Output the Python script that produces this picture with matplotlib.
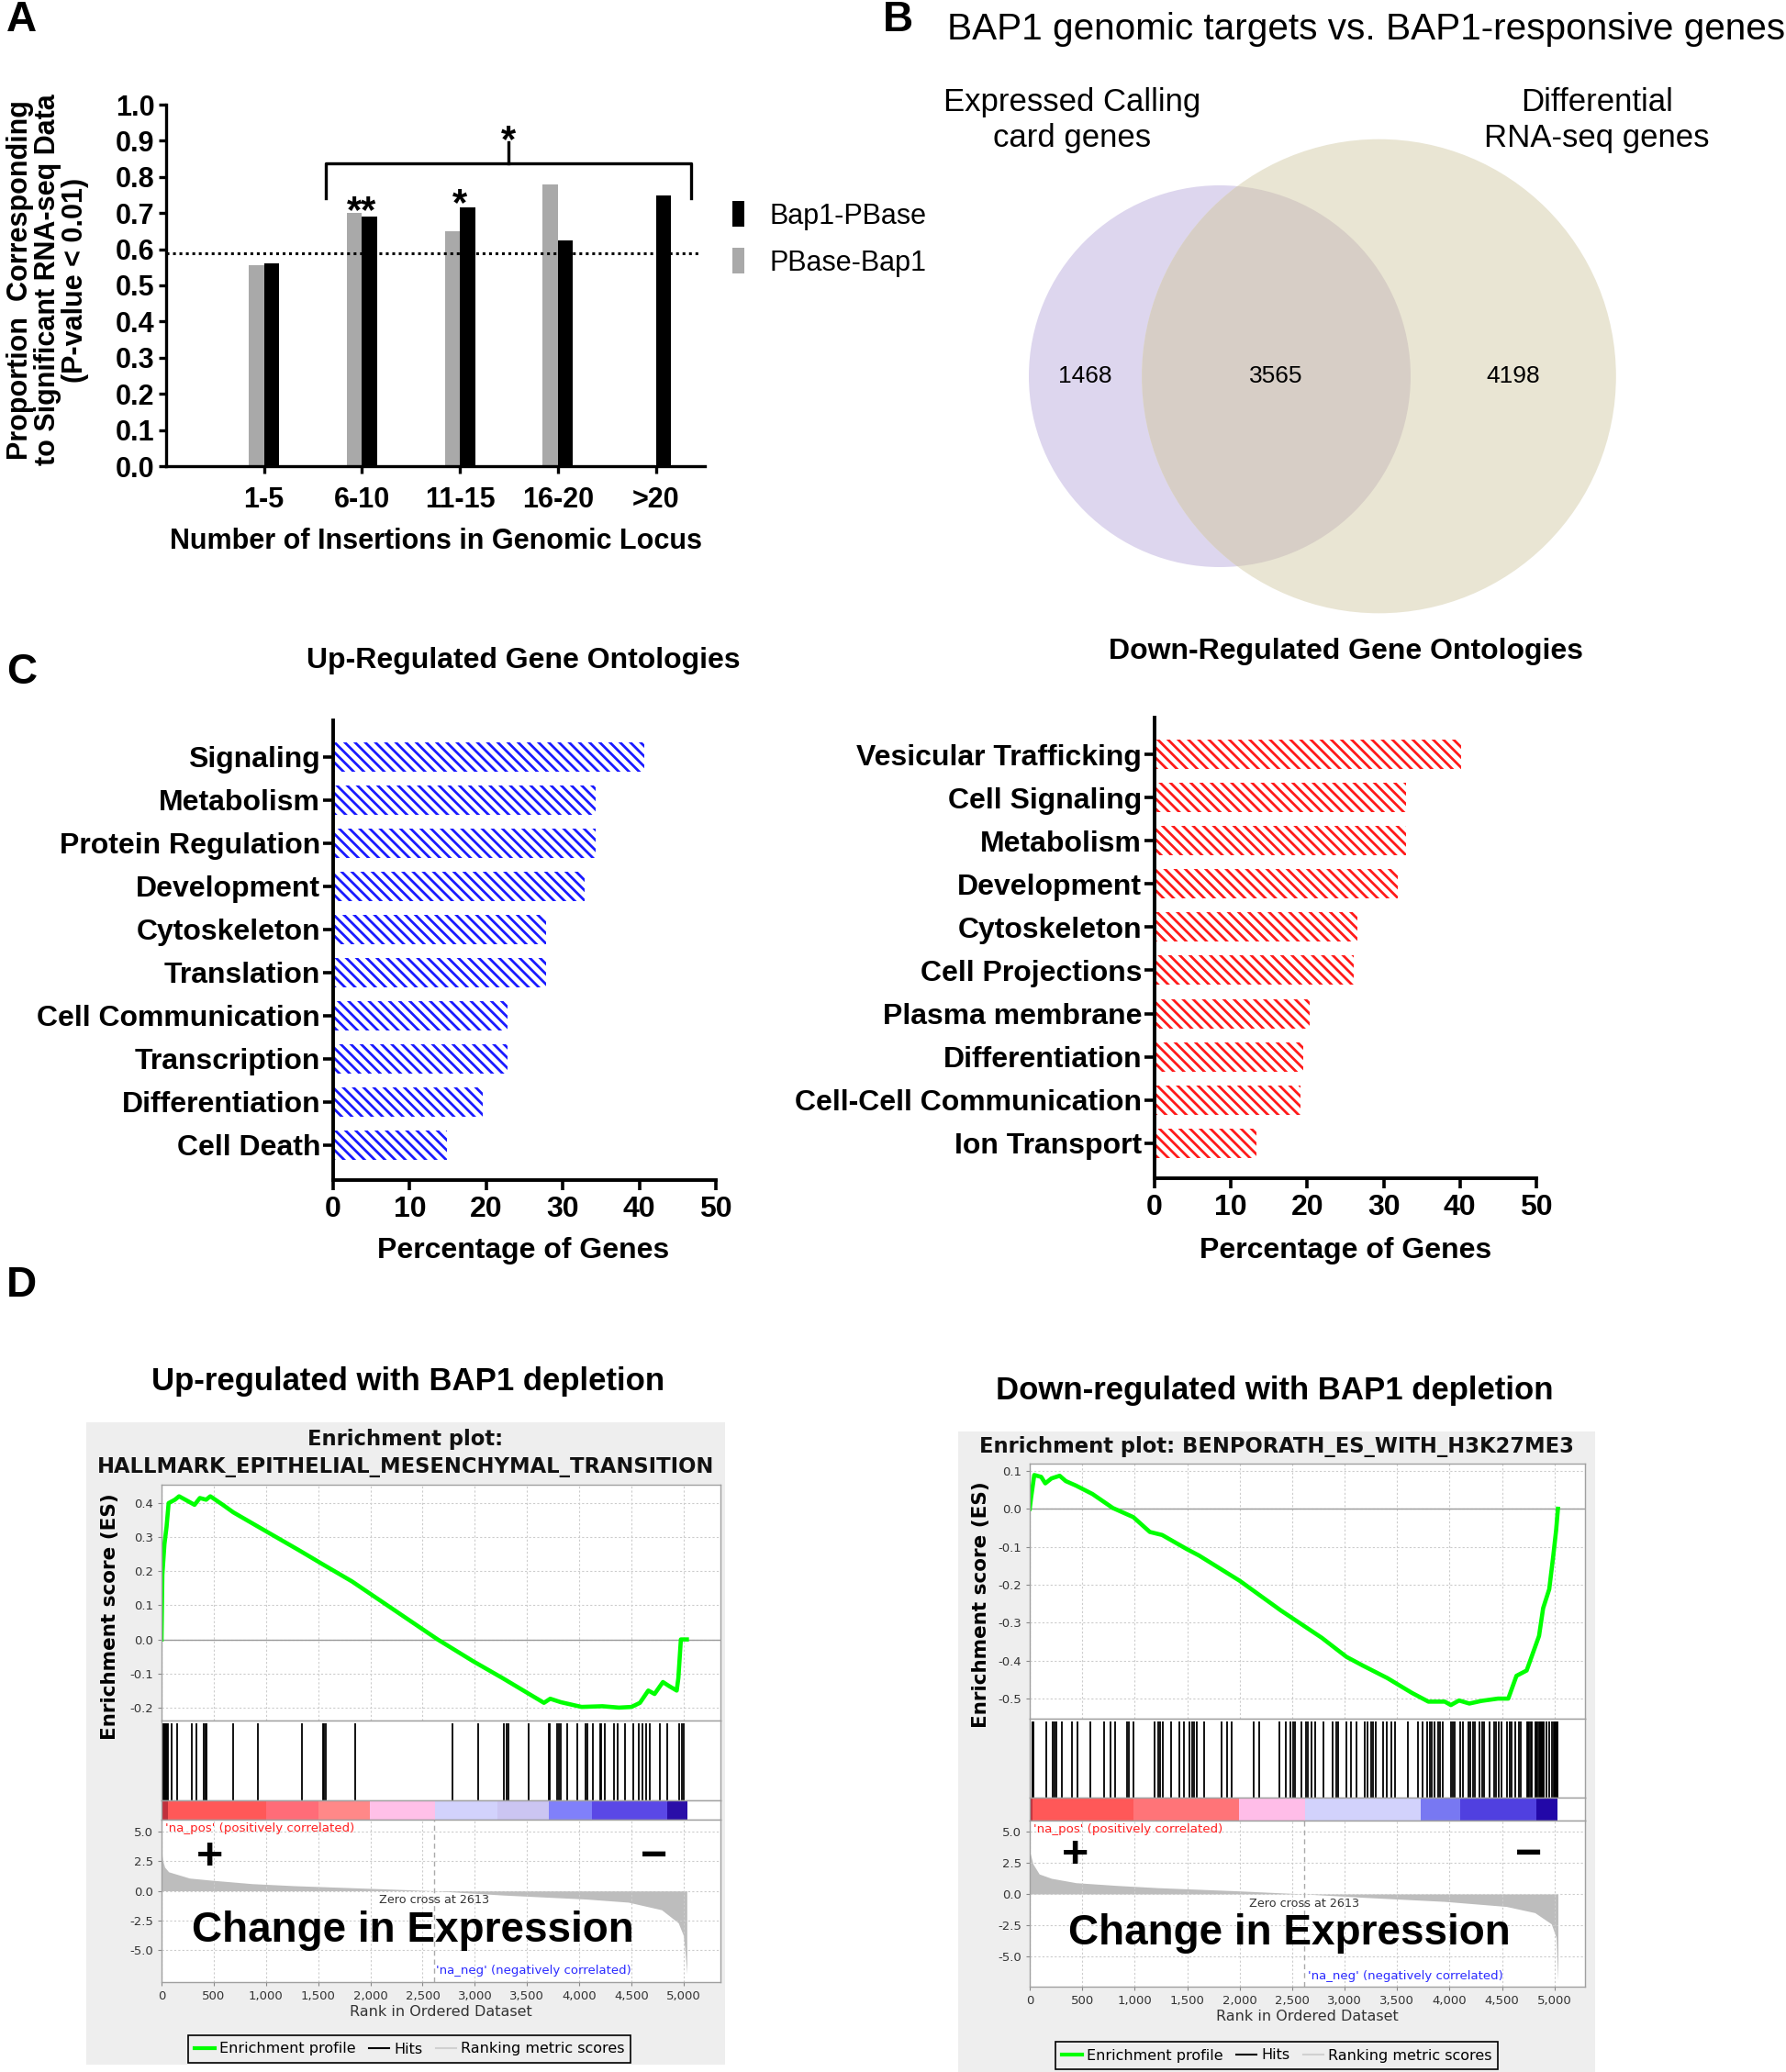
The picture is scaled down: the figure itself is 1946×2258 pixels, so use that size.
import numpy as np
import matplotlib
matplotlib.use("Agg")
import matplotlib.pyplot as plt
from matplotlib.patches import Circle, Rectangle
from matplotlib.lines import Line2D

# ---------------- data ----------------
# A: calling-card insertions vs RNA-seq
ins_bins = ["1-5", "6-10", "11-15", "16-20", ">20"]
bap1_pbase = [0.56, 0.69, 0.715, 0.625, 0.75]
pbase_bap1 = [0.555, 0.70, 0.65, 0.78, np.nan]
bg_prop = 0.59

# B: venn counts
venn_only_cc = 1468
venn_both = 3565
venn_only_rna = 4198

# C: gene ontologies (percentage of genes)
up_terms = ["Signaling", "Metabolism", "Protein Regulation", "Development",
            "Cytoskeleton", "Translation", "Cell Communication", "Transcription",
            "Differentiation", "Cell Death"]
up_pct = [40.6, 34.25, 34.25, 32.8, 27.8, 27.8, 22.8, 22.8, 19.6, 14.9]
down_terms = ["Vesicular Trafficking", "Cell Signaling", "Metabolism", "Development",
              "Cytoskeleton", "Cell Projections", "Plasma membrane", "Differentiation",
              "Cell-Cell Communication", "Ion Transport"]
down_pct = [40.2, 32.9, 32.9, 31.8, 26.6, 26.1, 20.3, 19.5, 19.1, 13.3]

# D: GSEA, EMT (up)
emt_rank = [0, 8, 28, 48, 68, 128, 168, 228, 316, 367, 427, 467, 587, 687, 907,
            1326, 1546, 1825, 2644, 2984, 3263, 3662, 3722, 3822, 4022, 4222, 4381,
            4501, 4581, 4661, 4721, 4801, 4861, 4933, 4949, 4973, 5030]
emt_es = [0.0, 0.19, 0.28, 0.33, 0.40, 0.41, 0.42, 0.41, 0.395, 0.415, 0.41, 0.42,
          0.395, 0.373, 0.334, 0.26, 0.22, 0.17, 0.0, -0.064, -0.113, -0.186, -0.174,
          -0.184, -0.198, -0.196, -0.2, -0.198, -0.186, -0.15, -0.16, -0.125, -0.137,
          -0.15, -0.113, 0.0, 0.0]
emt_hits = [2, 10, 18, 26, 34, 42, 50, 59, 97, 147, 294, 332, 403, 418, 432, 682, 926,
            1344, 1544, 1559, 1574, 1853, 2784, 3029, 3280, 3301, 3321, 3514, 3710,
            3718, 3788, 3806, 3821, 3885, 3978, 4060, 4080, 4133, 4197, 4212, 4244,
            4329, 4372, 4440, 4513, 4571, 4606, 4644, 4673, 4775, 4840, 4959, 4980, 5000]

# D: GSEA, BENPORATH (down)
ben_rank = [0, 12, 43, 109, 148, 207, 285, 343, 441, 597, 792, 987, 1144, 1261, 1495,
            1612, 2002, 2393, 2783, 3017, 3173, 3407, 3641, 3798, 3954, 4012, 4090,
            4188, 4305, 4461, 4559, 4637, 4734, 4773, 4852, 4891, 4949, 4988, 5015, 5032]
ben_es = [0.0, 0.028, 0.089, 0.084, 0.067, 0.08, 0.087, 0.073, 0.061, 0.039, 0.002,
          -0.022, -0.061, -0.069, -0.106, -0.123, -0.19, -0.268, -0.34, -0.39, -0.413,
          -0.446, -0.485, -0.508, -0.508, -0.517, -0.505, -0.513, -0.506, -0.5, -0.5,
          -0.44, -0.426, -0.396, -0.335, -0.262, -0.212, -0.123, -0.056, 0.0]
ben_hits = [24, 35, 156, 215, 235, 250, 303, 400, 459, 573, 706, 773, 817, 929, 941, 988,
            1185, 1223, 1238, 1264, 1347, 1426, 1470, 1523, 1546, 1567, 1591, 1664, 1826,
            1882, 1920, 2134, 2184, 2381, 2443, 2487, 2508, 2531, 2587, 2634, 2646, 2686,
            2715, 2802, 2884, 2919, 2936, 3015, 3058, 3110, 3195, 3218, 3256, 3270, 3297,
            3363, 3401, 3442, 3480, 3605, 3698, 3741, 3785, 3808, 3828, 3858, 3887, 3907,
            3936, 4017, 4032, 4052, 4105, 4128, 4177, 4201, 4221, 4244, 4288, 4308, 4331,
            4381, 4424, 4445, 4468, 4497, 4547, 4570, 4593, 4628, 4657, 4680, 4737, 4748,
            4759, 4770, 4779, 4819, 4829, 4839, 4849, 4859, 4869, 4879, 4889, 4895, 4919,
            4948, 4979, 4989, 4999, 5009, 5019, 5028]

# ranked list metric
emt_m_rank = [0, 10, 30, 68, 268, 468, 868, 1268, 2068, 2613, 3268, 4068, 4468, 4788,
              4948, 4996, 5012, 5030]
emt_m_val = [3.4, 2.6, 2.0, 1.6, 1.07, 0.9, 0.6, 0.43, 0.18, 0.0, -0.36, -0.7, -0.96,
             -1.6, -2.7, -3.75, -5.0, -7.0]
ben_m_rank = [0, 31, 90, 207, 441, 831, 1222, 2002, 2615, 3173, 3954, 4539, 4812, 4969,
              5015, 5027, 5032]
ben_m_val = [3.4, 2.4, 1.6, 1.25, 0.9, 0.68, 0.5, 0.24, 0.0, -0.27, -0.6, -1.0, -1.5,
             -2.4, -3.5, -6.0, -6.9]
zero_cross = 2613

# colour strip of the ranked list
emt_seg = [0, 59, 1000, 1500, 1994, 2618, 3213, 3710, 4118, 4840, 5032]
emt_seg_col = ['#c0303c', '#ff5858', '#ff6c78', '#ff8888', '#ffc0e8', '#d2d2fc',
               '#cbc5f2', '#8080fa', '#5a48e6', '#2a0ea8']
ben_seg = [0, 30, 988, 1994, 2625, 3727, 4105, 4826, 5032]
ben_seg_col = ['#c0303c', '#ff5858', '#ff7478', '#ffbde8', '#d2d2fc', '#7878f2',
               '#5040e0', '#2208a8']

# ---------------- figure ----------------
W, H = 1946, 2258
plt.rcParams['font.family'] = ['Liberation Sans', 'DejaVu Sans']
plt.rcParams['hatch.linewidth'] = 2.0
fig = plt.figure(figsize=(W / 100, H / 100), dpi=100)

ARIAL = ['Liberation Sans', 'DejaVu Sans']
JAVA = ['DejaVu Sans']


def fx(x):
    return x / W


def fy(y):
    return 1 - y / H


def px_axes(l, t, r, b):
    return fig.add_axes([fx(l), fy(b), (r - l) / W, (b - t) / H])


# panel letters
for letter, (lx, ly) in {"A": (7, 22), "B": (962, 22), "C": (7, 733), "D": (7, 1401)}.items():
    fig.text(fx(lx), fy(ly), letter, fontsize=33, fontweight='bold', ha='left', va='center')

# ---------------- A ----------------
axA = px_axes(181, 114, 768, 508)
xa = np.arange(len(ins_bins))
bw = 0.155
bg = axA.bar(xa - bw / 2, pbase_bap1, bw, color='#a9a9a9')
bk = axA.bar(xa + bw / 2, bap1_pbase, bw, color='black')
axA.plot([-1.0, 4.45], [bg_prop, bg_prop], color='black', ls=(0, (1, 1.3)), lw=2.2)
axA.set_xlim(-1.0, 4.5)
axA.set_ylim(0, 1.0)
for s in ['top', 'right']:
    axA.spines[s].set_visible(False)
for s in ['left', 'bottom']:
    axA.spines[s].set_linewidth(2.4)
yt = np.round(np.arange(0, 1.01, 0.1), 1)
axA.set_yticks(yt)
axA.set_yticklabels([f"{v:.1f}" for v in yt])
axA.set_xticks(xa)
axA.set_xticklabels(ins_bins)
axA.tick_params(width=2.4, length=6, labelsize=22)
axA.tick_params(axis='y', pad=3)
axA.tick_params(axis='x', pad=10)
for lab in axA.get_xticklabels() + axA.get_yticklabels():
    lab.set_fontweight('bold')

# significance bracket
bl, br = xa[1] - 0.37, xa[4] + 0.36
axA.plot([bl, bl, br, br], [0.741, 0.838, 0.838, 0.741], color='black', lw=2.4)
bm = (bl + br) / 2
axA.plot([bm, bm], [0.838, 0.895], color='black', lw=2.4)
axA.text(bm, 0.87, '*', ha='center', va='baseline', fontsize=30, fontweight='bold')
axA.text(xa[1], 0.674, '**', ha='center', va='baseline', fontsize=30, fontweight='bold')
axA.text(xa[2], 0.694, '*', ha='center', va='baseline', fontsize=30, fontweight='bold')

axA.legend([bk, bg], ['Bap1-PBase', 'PBase-Bap1'], loc='upper left',
           bbox_to_anchor=(fx(770), fy(192)), bbox_transform=fig.transFigure,
           frameon=False, fontsize=22, handlelength=0.45, handleheight=1.0,
           handletextpad=0.9, labelspacing=0.65)

fig.text(fx(52), fy(305), "Proportion  Corresponding\nto Significant RNA-seq Data\n(P-value < 0.01)",
         rotation=90, ha='center', va='center', multialignment='center',
         fontsize=22, fontweight='bold', linespacing=1.0)
fig.text(fx(475), fy(590), "Number of Insertions in Genomic Locus", ha='center', va='center',
         fontsize=22, fontweight='bold')

# ---------------- B ----------------
r_cc = np.sqrt((venn_only_cc + venn_both) / np.pi)
r_rna = np.sqrt((venn_both + venn_only_rna) / np.pi)
d_centers = 0.834 * r_cc
axB = px_axes(1030, 100, 1946, 720)
sc = 208.0 / r_cc
axB.set_xlim((1030 - 1329) / sc, (1946 - 1329) / sc)
axB.set_ylim(-(720 - 410) / sc, (410 - 100) / sc)
axB.axis('off')
c_left = Circle((0, 0), r_cc, facecolor='#ddd6ee', edgecolor='none')
c_right = Circle((d_centers, 0), r_rna, facecolor='#e9e5d3', edgecolor='none')
c_over = Circle((d_centers, 0), r_rna, facecolor='#d7cec6', edgecolor='none')
axB.add_patch(c_left)
axB.add_patch(c_right)
axB.add_patch(c_over)
c_over.set_clip_path(c_left)
x_l = (-r_cc + d_centers - r_rna) / 2
x_o = (d_centers - r_rna + r_cc) / 2
x_r = (r_cc + d_centers + r_rna) / 2
for xv, n in [(x_l, venn_only_cc), (x_o, venn_both), (x_r, venn_only_rna)]:
    axB.text(xv, 0, str(n), ha='center', va='center', fontsize=19)

fig.text(fx(1489), fy(32), "BAP1 genomic targets vs. BAP1-responsive genes",
         ha='center', va='center', fontsize=29.2)
fig.text(fx(1168), fy(131), "Expressed Calling\ncard genes", ha='center', va='center',
         fontsize=25, linespacing=1.2)
fig.text(fx(1740), fy(131), "Differential\nRNA-seq genes", ha='center', va='center',
         fontsize=25, linespacing=1.2)

# ---------------- C ----------------


def go_panel(box, terms, pct, color, title, title_xy, xlab_x):
    ax = px_axes(*box)
    y = np.arange(len(terms))
    ax.barh(y, pct, height=0.68, facecolor='white', edgecolor=color,
            hatch='\\\\\\', linewidth=0)
    ax.set_ylim(len(terms) - 1 + 0.81, -0.85)
    ax.set_xlim(0, 50)
    ax.set_yticks(y)
    ax.set_yticklabels(terms)
    ax.set_xticks(np.arange(0, 51, 10))
    for s in ['top', 'right']:
        ax.spines[s].set_visible(False)
    for s in ['left', 'bottom']:
        ax.spines[s].set_linewidth(2.8)
    ax.tick_params(width=2.6, length=8, labelsize=23)
    ax.tick_params(axis='y', pad=2)
    ax.tick_params(axis='x', pad=4)
    for lab in ax.get_xticklabels() + ax.get_yticklabels():
        lab.set_fontweight('bold')
    fig.text(fx(title_xy[0]), fy(title_xy[1]), title, ha='center', va='center',
             fontsize=23, fontweight='bold')
    fig.text(fx(xlab_x), fy(1363), "Percentage of Genes", ha='center', va='center',
             fontsize=23, fontweight='bold')
    return ax


go_panel((363, 785, 780, 1286), up_terms, up_pct, '#1a1aff',
         "Up-Regulated Gene Ontologies", (570, 720), 570)
go_panel((1258, 782, 1674, 1284), down_terms, down_pct, '#ff1a1a',
         "Down-Regulated Gene Ontologies", (1466, 710), 1466)

# ---------------- D ----------------
fig.text(fx(445), fy(1505), "Up-regulated with BAP1 depletion", ha='center', va='center',
         fontsize=25, fontweight='bold')
fig.text(fx(1389), fy(1515), "Down-regulated with BAP1 depletion", ha='center', va='center',
         fontsize=25, fontweight='bold')


def gsea(box, frame, xmax, es_rank, es_val, es_lim, es_ticks, hits, seg_edges, seg_colors,
         m_rank, m_val, m_lim, title, title_y, ylab_x, notes, legend_xy):
    l, r, t_es, t_hit, t_bar, b_bar, b_m = box
    fl, ft, fr, fb = frame
    fig.patches.append(Rectangle((fx(fl), fy(fb)), (fr - fl) / W, (fb - ft) / H,
                                 transform=fig.transFigure, facecolor='#eeeeee',
                                 edgecolor='none', zorder=-5))
    ax_es = px_axes(l, t_es, r, t_hit)
    ax_hit = px_axes(l, t_hit, r, t_bar)
    ax_bar = px_axes(l, t_bar, r, b_bar)
    ax_m = px_axes(l, b_bar, r, b_m)
    xt = np.arange(0, 5001, 500)
    for ax in (ax_es, ax_hit, ax_bar, ax_m):
        ax.set_xlim(0, xmax)
        for sp in ax.spines.values():
            sp.set_color('#a0a0a0')
            sp.set_linewidth(1.0)
        ax.tick_params(colors='#888888', labelcolor='#333333', labelsize=9.5,
                       length=3, width=0.8)
    # running enrichment score
    ax_es.set_xticks(xt)
    ax_es.grid(True, color='#cccccc', ls=(0, (2, 2)), lw=0.8)
    ax_es.axhline(0, color='#999999', lw=1.0)
    ax_es.plot(es_rank, es_val, color='#00ff00', lw=3.3, solid_joinstyle='round')
    ax_es.set_ylim(*es_lim)
    ax_es.set_yticks(es_ticks)
    ax_es.set_yticklabels([f"{v:.1f}" for v in es_ticks], family=JAVA)
    ax_es.tick_params(axis='x', labelbottom=False, length=0)
    # hits
    ax_hit.vlines(hits, 0, 0.97, color='black', lw=1.3)
    ax_hit.set_ylim(0, 1)
    ax_hit.set_xticks([])
    ax_hit.set_yticks([])
    # colour strip
    for i in range(len(seg_colors)):
        ax_bar.axvspan(seg_edges[i], seg_edges[i + 1], color=seg_colors[i], lw=0)
    ax_bar.set_xticks([])
    ax_bar.set_yticks([])
    # ranked list metric
    ax_m.set_xticks(xt)
    ax_m.set_xticklabels([f"{v:,}" for v in xt], family=JAVA)
    mt = [5.0, 2.5, 0.0, -2.5, -5.0]
    ax_m.set_yticks(mt)
    ax_m.set_yticklabels([f"{v:.1f}" for v in mt], family=JAVA)
    ax_m.grid(True, color='#cccccc', ls=(0, (2, 2)), lw=0.8)
    ax_m.fill_between(m_rank, 0, m_val, color='#bdbdbd', lw=0)
    ax_m.axvline(zero_cross, color='#aaaaaa', ls=(0, (4, 3)), lw=1.0)
    ax_m.set_ylim(*m_lim)
    ax_m.set_xlabel("Rank in Ordered Dataset", fontsize=11.5, color='#333333',
                    family=JAVA, labelpad=2)
    ax_m.text(notes['pos'][0], notes['pos'][1], "'na_pos' (positively correlated)",
              color='#ff2020', fontsize=9.6, family=JAVA, ha='left', va='center')
    ax_m.text(notes['neg'][0], notes['neg'][1], "'na_neg' (negatively correlated)",
              color='#2a2aff', fontsize=9.5, family=JAVA, ha='left', va='center')
    ax_m.text(zero_cross, notes['zero'], f"Zero cross at {zero_cross}", color='#333333',
              fontsize=9.2, family=JAVA, ha='center', va='center')
    ax_m.text(notes['plus'][0], notes['plus'][1], "+", fontsize=36, fontweight='bold',
              family=ARIAL, ha='center', va='center')
    ax_m.text(notes['minus'][0], notes['minus'][1], "\u2212", fontsize=36,
              fontweight='bold', family=ARIAL, ha='center', va='center')
    ax_m.text(notes['change'][0], notes['change'][1], "Change in Expression", fontsize=33,
              fontweight='bold', family=ARIAL, ha='center', va='center')
    # titles and labels
    for txt, ty in zip(title, title_y):
        fig.text(fx((fl + fr) / 2), fy(ty), txt, ha='center', va='center', fontsize=16.3,
                 fontweight='bold', family=JAVA, color='#111111')
    fig.text(fx(ylab_x), fy((t_es + t_hit) / 2 + 15), "Enrichment score (ES)", rotation=90,
             ha='center', va='center', fontsize=15.5, fontweight='bold', family=JAVA)
    handles = [Line2D([], [], color='#00ff00', lw=3), Line2D([], [], color='black', lw=1.5),
               Line2D([], [], color='#d0d0d0', lw=1.5)]
    leg = fig.legend(handles, ["Enrichment profile", "Hits", "Ranking metric scores"],
                     loc='center', bbox_to_anchor=(fx(legend_xy[0]), fy(legend_xy[1])),
                     ncol=3, frameon=True, fancybox=False,
                     edgecolor='black', facecolor='#eeeeee', framealpha=1,
                     handlelength=1.4, handletextpad=0.3, columnspacing=0.9,
                     borderpad=0.45, prop={'family': JAVA, 'size': 11.5})
    leg.get_frame().set_linewidth(1.2)


gsea((176, 785, 1618, 1875, 1962, 1983, 2160), (94, 1550, 790, 2250), 5352,
     emt_rank, emt_es, (-0.238, 0.454), [0.4, 0.3, 0.2, 0.1, 0.0, -0.1, -0.2],
     emt_hits, emt_seg, emt_seg_col, emt_m_rank, emt_m_val, (-7.7, 6.0),
     ["Enrichment plot:", "HALLMARK_EPITHELIAL_MESENCHYMAL_TRANSITION"], [1568, 1598], 120,
     {'pos': (36, 5.3), 'neg': (2630, -6.7), 'zero': -0.8, 'plus': (460, 2.86),
      'minus': (4716, 2.86), 'change': (2408, -3.4)}, (446, 2233))

gsea((1122, 1727, 1595, 1873, 1959, 1984, 2165), (1044, 1560, 1738, 2258), 5290,
     ben_rank, ben_es, (-0.553, 0.119), [0.1, 0.0, -0.1, -0.2, -0.3, -0.4, -0.5],
     ben_hits, ben_seg, ben_seg_col, ben_m_rank, ben_m_val, (-7.43, 5.88),
     ["Enrichment plot: BENPORATH_ES_WITH_H3K27ME3"], [1576], 1069,
     {'pos': (31, 5.2), 'neg': (2646, -6.6), 'zero': -0.78, 'plus': (433, 3.1),
      'minus': (4754, 3.1), 'change': (2470, -3.2)}, (1391, 2240))

fig.savefig("out.png", dpi=100)
